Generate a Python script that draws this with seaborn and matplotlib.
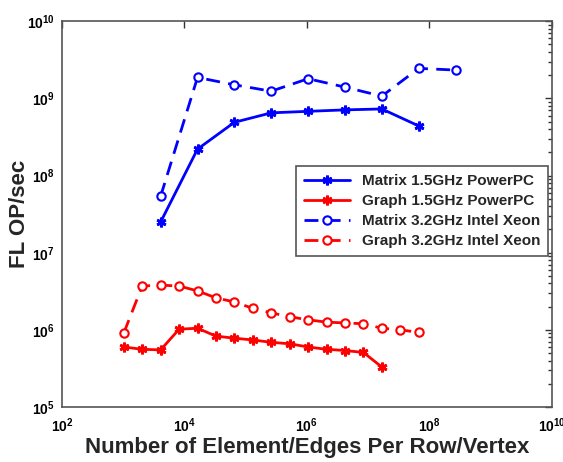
import numpy as np
import pandas as pd
import matplotlib
matplotlib.use('Agg')
import matplotlib.pyplot as plt
import seaborn as sns
from matplotlib.ticker import LogLocator, FuncFormatter, NullLocator

# Matrix kernels: 2^12 .. 2^28 elements per row (factor 4 steps)
matrix_ppc_x = [4096, 16384, 65536, 262144, 1048576, 4194304, 16777216, 67108864]
matrix_ppc_y = [2.5e7, 2.2e8, 4.9e8, 6.5e8, 6.8e8, 7.1e8, 7.3e8, 4.4e8]

matrix_xeon_x = [4096, 16384, 65536, 262144, 1048576, 4194304, 16777216, 67108864, 268435456]
matrix_xeon_y = [5.4e7, 1.87e9, 1.5e9, 1.24e9, 1.8e9, 1.4e9, 1.07e9, 2.45e9, 2.33e9]

# Graph kernels: 2^10 .. edges per vertex (factor 2 steps)
graph_ppc_x = [2 ** k for k in range(10, 25)]
graph_ppc_y = [6.0e5, 5.6e5, 5.5e5, 1.02e6, 1.05e6, 8.3e5, 7.8e5, 7.4e5,
               6.9e5, 6.6e5, 6.0e5, 5.6e5, 5.4e5, 5.1e5, 3.3e5]

graph_xeon_x = [2 ** k for k in range(10, 27)]
graph_xeon_y = [9.1e5, 3.7e6, 3.8e6, 3.7e6, 3.2e6, 2.6e6, 2.3e6, 1.9e6, 1.66e6,
                1.48e6, 1.35e6, 1.26e6, 1.23e6, 1.2e6, 1.05e6, 1.0e6, 9.3e5]

series_names = ['Matrix 1.5GHz PowerPC', 'Graph 1.5GHz PowerPC',
                'Matrix 3.2GHz Intel Xeon', 'Graph 3.2GHz Intel Xeon']

sns.set_style('white')
plt.rcParams['font.family'] = ['Liberation Sans', 'DejaVu Sans']
plt.rcParams['font.weight'] = 'bold'
plt.rcParams['mathtext.fontset'] = 'custom'
plt.rcParams['mathtext.bf'] = 'Liberation Sans:bold'
plt.rcParams['mathtext.rm'] = 'Liberation Sans:bold'

fig = plt.figure(figsize=(5.63, 4.62), dpi=100)
ax = fig.add_axes([0.110, 0.119, 0.870, 0.835])

star = (6, 2, 0)
dash = (0, (5, 3))
styles = [
    (matrix_ppc_x, matrix_ppc_y, '#0000ff', '-', star),
    (graph_ppc_x, graph_ppc_y, '#ff0000', '-', star),
    (matrix_xeon_x, matrix_xeon_y, '#0000ff', dash, 'o'),
    (graph_xeon_x, graph_xeon_y, '#ff0000', dash, 'o'),
]

for name, (xs, ys, col, ls, mk) in zip(series_names, styles):
    df = pd.DataFrame({'x': xs, 'y': ys})
    if mk == 'o':
        sns.lineplot(data=df, x='x', y='y', ax=ax, color=col, linestyle=ls, linewidth=2,
                     marker='o', markersize=6, markerfacecolor='white',
                     markeredgecolor=col, markeredgewidth=1.5, label=name)
    else:
        sns.lineplot(data=df, x='x', y='y', ax=ax, color=col, linestyle=ls, linewidth=2,
                     marker=mk, markersize=7, markeredgecolor=col,
                     markeredgewidth=2.0, label=name)

ax.set_xscale('log')
ax.set_yscale('log')
ax.set_xlim(1e2, 1e10)
ax.set_ylim(1e5, 1e10)

ax.xaxis.set_major_locator(LogLocator(base=100.0, numticks=10))
ax.xaxis.set_minor_locator(NullLocator())
ax.yaxis.set_major_locator(LogLocator(base=10.0, numticks=10))
ax.yaxis.set_minor_locator(LogLocator(base=10.0, subs=np.arange(2, 10), numticks=20))

fmt = FuncFormatter(lambda v, p: r'$\mathbf{10^{%d}}$' % int(round(np.log10(v))))
ax.xaxis.set_major_formatter(fmt)
ax.yaxis.set_major_formatter(fmt)

ax.tick_params(which='both', direction='in', top=True, right=True,
               colors='#333333', labelcolor='black', labelsize=10)
ax.tick_params(which='major', length=5, width=1)
ax.tick_params(which='minor', length=3, width=1)
ax.tick_params(axis='x', pad=7)
ax.tick_params(axis='y', pad=5)
for sp in ax.spines.values():
    sp.set_color('#555555')
    sp.set_linewidth(1.2)

ax.set_xlabel('Number of Element/Edges Per Row/Vertex', fontsize=16, fontweight='bold', labelpad=1)
ax.set_ylabel('FL OP/sec', fontsize=16, fontweight='bold', labelpad=-2)

leg = ax.legend(loc='upper left', bbox_to_anchor=(0.478, 0.624), borderaxespad=0,
                fancybox=False, framealpha=1, edgecolor='#555555',
                prop={'weight': 'bold', 'size': 11}, handlelength=3.0,
                labelspacing=0.4, borderpad=0.5)
leg.get_frame().set_linewidth(1.2)

plt.savefig('out.png', dpi=100)
